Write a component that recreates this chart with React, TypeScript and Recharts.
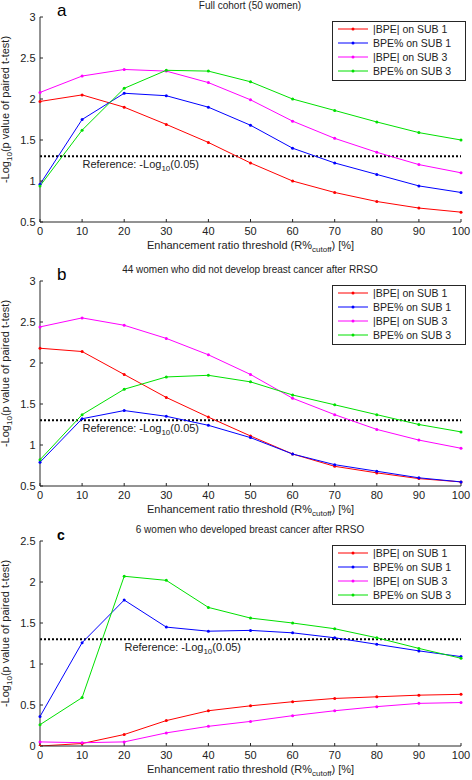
/* Three stacked panels: -log10(p) of paired t-test vs enhancement ratio threshold */
import {
  LineChart, Line, XAxis, YAxis, ReferenceLine, Legend
} from "recharts";

const thresholds = [0, 10, 20, 30, 40, 50, 60, 70, 80, 90, 100];

/* panel a – full cohort */
const absSub1A = [1.97, 2.05, 1.90, 1.69, 1.47, 1.22, 1.00, 0.86, 0.75, 0.67, 0.62];
const pctSub1A = [0.96, 1.75, 2.07, 2.04, 1.90, 1.68, 1.40, 1.22, 1.08, 0.94, 0.86];
const absSub3A = [2.08, 2.28, 2.36, 2.34, 2.20, 1.99, 1.73, 1.52, 1.35, 1.20, 1.10];
const pctSub3A = [0.94, 1.62, 2.13, 2.35, 2.34, 2.21, 2.00, 1.86, 1.72, 1.59, 1.50];

/* panel b – no breast cancer */
const absSub1B = [2.18, 2.14, 1.86, 1.58, 1.34, 1.11, 0.89, 0.74, 0.66, 0.59, 0.55];
const pctSub1B = [0.79, 1.32, 1.42, 1.35, 1.24, 1.09, 0.89, 0.76, 0.68, 0.60, 0.55];
const absSub3B = [2.44, 2.55, 2.46, 2.30, 2.10, 1.86, 1.57, 1.37, 1.19, 1.06, 0.96];
const pctSub3B = [0.82, 1.37, 1.68, 1.83, 1.85, 1.77, 1.61, 1.49, 1.37, 1.25, 1.16];

/* panel c – developed breast cancer */
const absSub1C = [0.00, 0.03, 0.14, 0.31, 0.43, 0.49, 0.54, 0.58, 0.60, 0.62, 0.63];
const pctSub1C = [0.36, 1.26, 1.78, 1.45, 1.40, 1.41, 1.38, 1.32, 1.24, 1.16, 1.09];
const absSub3C = [0.05, 0.04, 0.05, 0.16, 0.24, 0.30, 0.37, 0.43, 0.48, 0.52, 0.53];
const pctSub3C = [0.26, 0.59, 2.07, 2.02, 1.69, 1.56, 1.50, 1.43, 1.32, 1.19, 1.07];

const yTicksAB = [0.5, 1, 1.5, 2, 2.5, 3];
const yTicksC = [0, 0.5, 1, 1.5, 2, 2.5];

const refValue = 1.301; // -log10(0.05)

const series = [
  { key: "absSub1", name: "|BPE| on SUB 1", color: "#ff0000" },
  { key: "pctSub1", name: "BPE% on SUB 1", color: "#0000ff" },
  { key: "absSub3", name: "|BPE| on SUB 3", color: "#ff00ff" },
  { key: "pctSub3", name: "BPE% on SUB 3", color: "#00e000" },
];

const FONT = "'Liberation Sans', Arial, sans-serif";
const AXIS = "#262626";

function rows(a: number[], b: number[], c: number[], d: number[]) {
  return thresholds.map((x, i) => ({ x, absSub1: a[i], pctSub1: b[i], absSub3: c[i], pctSub3: d[i] }));
}

const LegendBox = () => (
  <svg width={134} height={60} style={{ display: "block" }}>
    <rect x={0.5} y={0.5} width={133} height={59} fill="#fff" stroke={AXIS} />
    {series.map((s, i) => {
      const y = 8 + i * 14;
      return (
        <g key={s.key}>
          <line x1={6} x2={36} y1={y} y2={y} stroke={s.color} strokeWidth={1} />
          <circle cx={21} cy={y} r={1.5} fill={s.color} />
          <text x={41} y={y + 4} fontSize={10.5} fontFamily={FONT} fill="#222">{s.name}</text>
        </g>
      );
    })}
  </svg>
);

interface PanelProps {
  letter: string;
  letterSize: number;
  letterBold?: boolean;
  title: string;
  data: ReturnType<typeof rows>;
  domain: [number, number];
  ticks: number[];
  top: number;
  refDx: number;
}

function Panel({ letter, letterSize, letterBold, title, data, domain, ticks, top, refDx }: PanelProps) {
  const bottom = 260 - (top + 205);
  return (
    <LineChart width={472} height={260} data={data} margin={{ top, right: 11, bottom: 0, left: 0 }}>
      <text x={57} y={top - 1.5} fontSize={letterSize} fontWeight={letterBold ? 700 : 400} fontFamily={FONT} fill="#000">{letter}</text>
      <text x={250} y={top - 8} textAnchor="middle" fontSize={10} fontFamily={FONT} fill="#222">{title}</text>
      <XAxis
        dataKey="x" type="number" domain={[0, 100]} ticks={thresholds}
        height={bottom} stroke={AXIS} tickSize={-3} tickMargin={8}
        tick={{ fontSize: 11, fontFamily: FONT, fill: "#222" }}
        label={({ viewBox }: any) => (
          <text x={viewBox.x + viewBox.width / 2} y={viewBox.y + 27} textAnchor="middle" fontSize={11} fontFamily={FONT} fill="#222">
            Enhancement ratio threshold (R%<tspan dy={3} fontSize={8}>cutoff</tspan><tspan dy={-3}>) [%]</tspan>
          </text>
        )}
      />
      <YAxis
        type="number" domain={domain} ticks={ticks} width={40} stroke={AXIS}
        tickSize={-3} tickMargin={7.5} allowDataOverflow
        tick={{ fontSize: 11, fontFamily: FONT, fill: "#222" }}
        label={({ viewBox }: any) => {
          const cx = 9;
          const cy = viewBox.y + viewBox.height / 2 - 10;
          return (
            <text x={cx} y={cy} transform={`rotate(-90 ${cx} ${cy})`} textAnchor="middle" fontSize={11} fontFamily={FONT} fill="#222">
              -Log<tspan dy={3} fontSize={8}>10</tspan><tspan dy={-3}>(p value of paired t-test)</tspan>
            </text>
          );
        }}
      />
      <ReferenceLine
        y={refValue} stroke="#000" strokeWidth={2} strokeDasharray="2 2"
        label={({ viewBox }: any) => (
          <text x={viewBox.x + refDx} y={viewBox.y + 12} fontSize={11} fontFamily={FONT} fill="#222">
            Reference: -Log<tspan dy={3} fontSize={8}>10</tspan><tspan dy={-3}>(0.05)</tspan>
          </text>
        )}
      />
      {series.map(s => (
        <Line
          key={s.key} dataKey={s.key} name={s.name} type="linear"
          stroke={s.color} strokeWidth={1}
          dot={{ r: 1.5, fill: s.color, stroke: "none" }}
          isAnimationActive={false}
        />
      ))}
      <Legend
        layout="vertical" align="center" verticalAlign="middle"
        content={() => <LegendBox />}
        wrapperStyle={{ position: "absolute", top: top + 4, left: 332, width: 134, height: 60 }}
      />
    </LineChart>
  );
}

export default function App() {
  return (
    <div style={{ position: "absolute", left: 0, top: 0, width: 472, height: 780, background: "#fff" }}>
      <Panel letter="a" letterSize={17} title="Full cohort (50 women)"
        data={rows(absSub1A, pctSub1A, absSub3A, pctSub3A)} domain={[0.5, 3]} ticks={yTicksAB} top={17} refDx={42.5} />
      <div style={{ position: "absolute", top: 260, left: 0 }}>
        <Panel letter="b" letterSize={17} title="44 women who did not develop breast cancer after RRSO"
          data={rows(absSub1B, pctSub1B, absSub3B, pctSub3B)} domain={[0.5, 3]} ticks={yTicksAB} top={21} refDx={42.5} />
      </div>
      <div style={{ position: "absolute", top: 520, left: 0 }}>
        <Panel letter="c" letterSize={14} letterBold title="6 women who developed breast cancer after RRSO"
          data={rows(absSub1C, pctSub1C, absSub3C, pctSub3C)} domain={[0, 2.5]} ticks={yTicksC} top={21} refDx={84.5} />
      </div>
    </div>
  );
}
